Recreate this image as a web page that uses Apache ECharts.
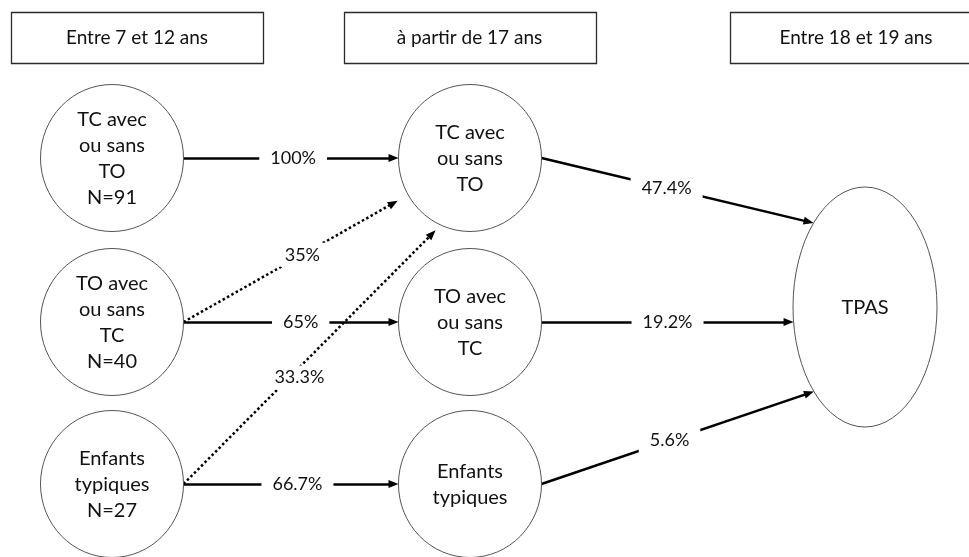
<!DOCTYPE html>
<html>
<head>
<meta charset="utf-8">
<script src="https://cdn.jsdelivr.net/npm/echarts@6/dist/echarts.min.js"></script>
<style>
  html, body { margin: 0; padding: 0; background: #fff; }
  #chart { width: 969px; height: 557px; }
</style>
</head>
<body>
<div id="chart"></div>
<script>
// data
const headers = ['Entre 7 et 12 ans', 'à partir de 17 ans', 'Entre 18 et 19 ans']
const groupNames = ['TC avec\nou sans\nTO', 'TO avec\nou sans\nTC', 'Enfants\ntypiques']
const groupN = [91, 40, 27]
const outcomeName = 'TPAS'
// transitions 7-12 ans -> 17 ans
const transFrom = [0, 1, 1, 2, 2]
const transTo = [0, 0, 1, 0, 2]
const transPct = [100, 35, 65, 33.3, 66.7]
// 17 ans -> TPAS (18-19 ans)
const outcomePct = [47.4, 19.2, 5.6]

// layout (pixels, read through the hidden axes)
const colX = [112, 470, 865]
const rowY = [158, 322, 484]
const headerX = [137, 469.5, 856]
const headerY = 37.5
const headerSize = [252, 51]
const nodeSize = [143, 147]
const outcomeY = 307
const outcomeSize = [144, 240]
const transEndAngle = [180, 150, 180, 116, 180]
const transEndGap = [0, 12, 0, 7, 0]
const transLabelT = [0.51, 0.555, 0.545, 0.42, 0.53]
const transLabelOffset = [0, 0, 0, 10, 0]
const outEndAngle = [224.4, 172.8, 135.2]
const outLabelT = [0.46, 0.5, 0.47]
const arrowLen = 10

const FONT = 'Lato'
const TEXT = '#111'

function edgeGeom(start, center, size, angle, gap) {
    const a = angle * Math.PI / 180
    const tip = [center[0] + (size[0] / 2 + gap) * Math.cos(a), center[1] + (size[1] / 2 + gap) * Math.sin(a)]
    const dx = tip[0] - start[0], dy = tip[1] - start[1]
    const len = Math.sqrt(dx * dx + dy * dy)
    const end = [tip[0] - dx / len * arrowLen / 2, tip[1] - dy / len * arrowLen / 2]
    return { start: start, tip: tip, end: end }
}

const edges = []
const edgeLabels = []

transPct.forEach(function (p, i) {
    const s = [colX[0] + nodeSize[0] / 2, rowY[transFrom[i]]]
    const g = edgeGeom(s, [colX[1], rowY[transTo[i]]], nodeSize, transEndAngle[i], transEndGap[i])
    const dotted = transFrom[i] !== transTo[i]
    edges.push({
        coords: [g.start, g.end],
        lineStyle: dotted ? { type: [2.5, 2.5], width: 2.5 } : { type: 'solid', width: 2.5 }
    })
    const t = transLabelT[i]
    edgeLabels.push({
        value: [g.start[0] + t * (g.tip[0] - g.start[0]), g.start[1] + t * (g.tip[1] - g.start[1])],
        name: p + '%',
        label: { offset: [transLabelOffset[i], 0] }
    })
})

outcomePct.forEach(function (p, i) {
    const s = [colX[1] + nodeSize[0] / 2, rowY[i]]
    const g = edgeGeom(s, [colX[2], outcomeY], outcomeSize, outEndAngle[i], 0)
    edges.push({ coords: [g.start, g.end], lineStyle: { type: 'solid', width: 2.5 } })
    const t = outLabelT[i]
    edgeLabels.push({
        value: [g.start[0] + t * (g.tip[0] - g.start[0]), g.start[1] + t * (g.tip[1] - g.start[1])],
        name: p + '%'
    })
})

const nodes = []
groupNames.forEach(function (name, i) {
    nodes.push({ value: [colX[0], rowY[i]], name: name + '\nN=' + groupN[i], size: nodeSize })
    nodes.push({ value: [colX[1], rowY[i]], name: name, size: nodeSize })
})
nodes.push({ value: [colX[2], outcomeY], name: outcomeName, size: outcomeSize })

const headerData = headers.map(function (h, i) {
    return { value: [headerX[i], headerY], name: h }
})

function renderNode(params, api) {
    const n = nodes[params.dataIndex]
    const c = api.coord([api.value(0), api.value(1)])
    const w = n.size[0], h = n.size[1]
    return {
        type: 'group',
        children: [
            {
                type: 'path',
                shape: {
                    pathData: 'M0,-1 A1,1 0 1,1 0,1 A1,1 0 1,1 0,-1 Z',
                    x: c[0] - w / 2, y: c[1] - h / 2, width: w, height: h, layout: 'cover'
                },
                style: { fill: '#fff', stroke: '#555', lineWidth: 1 }
            },
            {
                type: 'text',
                x: c[0], y: c[1] + 1,
                style: {
                    text: n.name, fill: TEXT, fontFamily: FONT, fontSize: 20, lineHeight: 26,
                    align: 'center', verticalAlign: 'middle'
                }
            }
        ]
    }
}

function renderHeader(params, api) {
    const c = api.coord([api.value(0), api.value(1)])
    const w = headerSize[0], h = headerSize[1]
    return {
        type: 'group',
        children: [
            {
                type: 'rect',
                shape: { x: Math.round(c[0] - w / 2) + 0.5, y: Math.round(c[1] - h / 2) + 0.5, width: w, height: h },
                style: { fill: '#fff', stroke: '#2b2b2b', lineWidth: 1.3 }
            },
            {
                type: 'text',
                x: c[0], y: c[1],
                style: {
                    text: headers[params.dataIndex], fill: TEXT, fontFamily: FONT, fontSize: 19,
                    align: 'center', verticalAlign: 'middle'
                }
            }
        ]
    }
}

var chart = echarts.init(document.querySelector('#chart'))

chart.setOption({
    animation: false,
    backgroundColor: '#fff',
    grid: { left: 0, right: 0, top: 0, bottom: 0 },
    xAxis: { type: 'value', min: 0, max: 969, show: false },
    yAxis: { type: 'value', min: 0, max: 557, inverse: true, show: false },
    series: [
        {
            type: 'custom',
            z: 4,
            renderItem: renderHeader,
            data: headerData
        },
        {
            type: 'lines',
            coordinateSystem: 'cartesian2d',
            z: 2,
            symbol: ['none', 'triangle'],
            symbolSize: [0, [8, arrowLen]],
            lineStyle: { color: '#000', opacity: 1, cap: 'butt' },
            data: edges
        },
        {
            type: 'scatter',
            z: 3,
            symbolSize: 1,
            itemStyle: { color: '#fff', opacity: 1 },
            label: {
                show: true, position: 'inside', formatter: '{b}',
                color: TEXT, fontFamily: FONT, fontSize: 18,
                backgroundColor: '#fff', padding: [3, 11]
            },
            emphasis: { disabled: true },
            data: edgeLabels
        },
        {
            type: 'custom',
            z: 4,
            renderItem: renderNode,
            data: nodes
        }
    ]
})
</script>
</body>
</html>
